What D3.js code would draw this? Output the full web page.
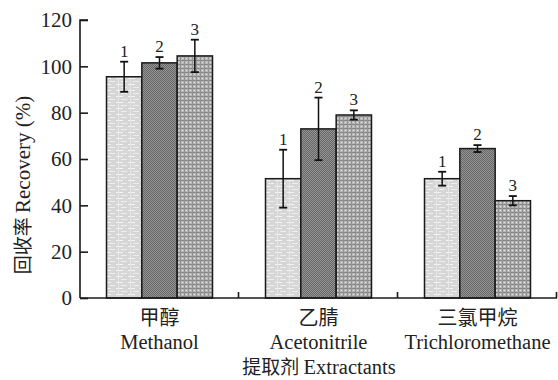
<!DOCTYPE html>
<html>
<head>
<meta charset="utf-8">
<script src="https://cdn.jsdelivr.net/npm/d3@7/dist/d3.min.js"></script>
<style>
  html, body { margin: 0; padding: 0; background: #fff; }
  svg { display: block; }
  text, tspan { font-family: "Liberation Serif", "DejaVu Serif", serif; fill: #222; }
  .cjk { font-family: "Noto Sans CJK SC", sans-serif; }
</style>
</head>
<body>
<svg id="chart" width="558" height="380"></svg>
<script>
// Extractants (groups) and their labels
const categories = ["Methanol", "Acetonitrile", "Trichloromethane"];
const categoriesZh = ["甲醇", "乙腈", "三氯甲烷"];
// Series within each group
const series = ["1", "2", "3"];
// Recovery (%) per extractant, series 1..3
const recovery = [
  [95.5, 101.5, 104.5],
  [51.5, 73.0, 79.0],
  [51.5, 64.5, 42.0]
];
// Error (±) per bar
const errors = [
  [6.5, 2.5, 7.0],
  [12.5, 13.5, 2.0],
  [3.0, 1.5, 2.0]
];
const yTicks = [0, 20, 40, 60, 80, 100, 120];

const SERIF = '"Liberation Serif", "DejaVu Serif", serif';
const svg = d3.select("#chart");
const m = { left: 80, right: 1, top: 20, bottom: 82 };
const W = 558, H = 380;

const x0 = d3.scaleBand().domain(categories).range([m.left, W - m.right]).padding(0);
const x1 = d3.scaleBand().domain(series).range([0, x0.bandwidth()]).paddingInner(0).paddingOuter(0.75);
const y = d3.scaleLinear().domain([0, 120]).range([H - m.bottom, m.top]);

// Fill textures for the three series
const defs = svg.append("defs");
const p1 = defs.append("pattern").attr("id", "pat1").attr("patternUnits", "userSpaceOnUse")
  .attr("width", 12).attr("height", 6);
p1.append("rect").attr("width", 12).attr("height", 6).attr("fill", "#d6d6d6");
p1.append("rect").attr("x", 0).attr("y", 0).attr("width", 7).attr("height", 1).attr("fill", "#f4f4f4");
p1.append("rect").attr("x", 5).attr("y", 3).attr("width", 6).attr("height", 1).attr("fill", "#eeeeee");
p1.append("rect").attr("x", 2).attr("y", 0).attr("width", 1).attr("height", 6).attr("fill", "#e6e6e6");

const p2 = defs.append("pattern").attr("id", "pat2").attr("patternUnits", "userSpaceOnUse")
  .attr("width", 2).attr("height", 2);
p2.append("rect").attr("width", 2).attr("height", 2).attr("fill", "#959595");
p2.append("rect").attr("x", 0).attr("y", 0).attr("width", 1).attr("height", 1).attr("fill", "#666666");
p2.append("rect").attr("x", 1).attr("y", 1).attr("width", 1).attr("height", 1).attr("fill", "#666666");

const p3 = defs.append("pattern").attr("id", "pat3").attr("patternUnits", "userSpaceOnUse")
  .attr("width", 4).attr("height", 4);
p3.append("rect").attr("width", 4).attr("height", 4).attr("fill", "#b8b8b8");
p3.append("rect").attr("x", 0).attr("y", 0).attr("width", 4).attr("height", 1).attr("fill", "#868686");
p3.append("rect").attr("x", 0).attr("y", 0).attr("width", 1).attr("height", 4).attr("fill", "#929292");
p3.append("rect").attr("x", 2).attr("y", 2).attr("width", 1).attr("height", 1).attr("fill", "#dedede");

const fills = ["url(#pat1)", "url(#pat2)", "url(#pat3)"];

// Bars, error bars and series labels
const groups = svg.append("g").selectAll("g")
  .data(categories).join("g")
  .attr("transform", d => `translate(${x0(d)},0)`);

groups.each(function (cat, gi) {
  const g = d3.select(this);
  series.forEach((s, si) => {
    const v = recovery[gi][si], e = errors[gi][si];
    const bx = x1(s), bw = x1.bandwidth(), cx = bx + bw / 2;
    g.append("rect")
      .attr("x", bx).attr("y", y(v))
      .attr("width", bw).attr("height", y(0) - y(v))
      .attr("fill", fills[si]).attr("stroke", "#1a1a1a").attr("stroke-width", 1.5);
    g.append("line").attr("x1", cx).attr("x2", cx)
      .attr("y1", y(v - e)).attr("y2", y(v + e))
      .attr("stroke", "#111").attr("stroke-width", 1.5);
    [v - e, v + e].forEach(t => {
      g.append("line").attr("x1", cx - 4).attr("x2", cx + 4)
        .attr("y1", y(t)).attr("y2", y(t))
        .attr("stroke", "#111").attr("stroke-width", 1.8);
    });
    g.append("text").attr("x", cx).attr("y", y(v + e) - 5)
      .attr("text-anchor", "middle").attr("font-size", 17)
      .style("font-family", SERIF).text(s);
  });
});

// Y axis, ticks pointing inward
const yAxis = svg.append("g").attr("transform", `translate(${m.left},0)`)
  .call(d3.axisRight(y).tickValues(yTicks).tickSize(8).tickFormat(d3.format("d")));
yAxis.attr("font-family", null).attr("font-size", null);
yAxis.select(".domain").attr("stroke", "#1a1a1a").attr("stroke-width", 1.6)
  .attr("d", `M8,${y(120)}H0V${y(0)}`);
yAxis.selectAll(".tick line").attr("stroke", "#1a1a1a").attr("stroke-width", 1.6);
yAxis.selectAll(".tick text").attr("x", -8).attr("text-anchor", "end")
  .attr("font-size", 21).attr("fill", "#222")
  .style("font-family", SERIF);

// X axis with short upward ticks at group boundaries
const boundaries = categories.map(c => x0(c) + x0.bandwidth());
const xAxis = svg.append("g").attr("transform", `translate(0,${y(0)})`);
xAxis.append("line").attr("x1", m.left).attr("x2", W - m.right).attr("y1", 0).attr("y2", 0)
  .attr("stroke", "#1a1a1a").attr("stroke-width", 1.6);
xAxis.selectAll("line.tk").data(boundaries).join("line").attr("class", "tk")
  .attr("x1", d => d - 0.5).attr("x2", d => d - 0.5).attr("y1", 0).attr("y2", -6)
  .attr("stroke", "#1a1a1a").attr("stroke-width", 1.6);

// Category labels (Chinese + English)
categories.forEach((c, i) => {
  const cx = x0(c) + x0.bandwidth() / 2;
  svg.append("text").attr("class", "cjk").attr("x", cx).attr("y", 325)
    .attr("text-anchor", "middle").attr("font-size", 20).attr("fill", "#333").text(categoriesZh[i]);
  svg.append("text").attr("x", cx).attr("y", 349)
    .attr("text-anchor", "middle").attr("font-size", 20.5).style("font-family", SERIF).text(c);
});

// Axis titles
const xt = svg.append("text").attr("x", 319).attr("y", 374).attr("text-anchor", "middle").attr("font-size", 20.5);
xt.append("tspan").attr("class", "cjk").attr("font-size", 19).text("提取剂 ");
xt.append("tspan").style("font-family", SERIF).text("Extractants");

const yt = svg.append("text").attr("transform", "translate(30,185) rotate(-90)")
  .attr("text-anchor", "middle").attr("font-size", 21);
yt.append("tspan").attr("class", "cjk").attr("font-size", 19).text("回收率 ");
yt.append("tspan").style("font-family", SERIF).text("Recovery (%)");
</script>
</body>
</html>
